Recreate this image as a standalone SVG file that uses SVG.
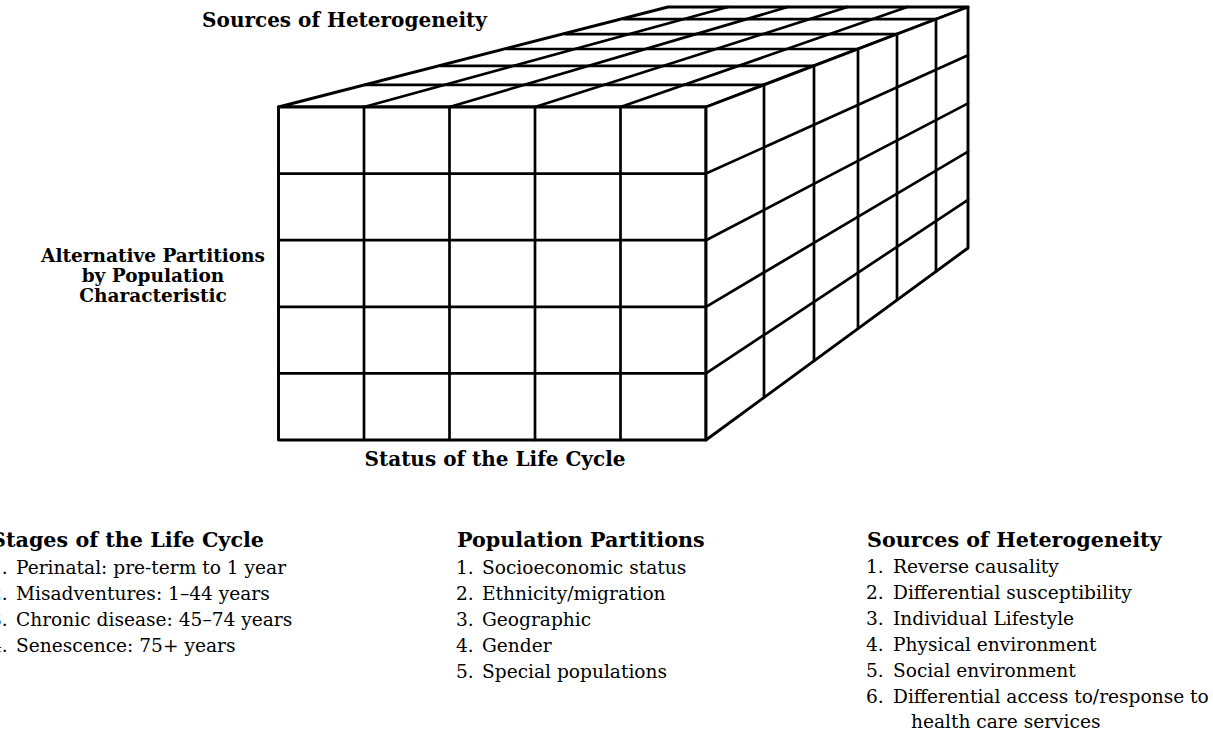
<svg xmlns="http://www.w3.org/2000/svg" width="1213" height="739" viewBox="0 0 1213 739">
<style>
.ln{fill:none;stroke:#000;stroke-width:2.7;stroke-linecap:round;stroke-linejoin:round}
.face{fill:#fff;stroke:#000;stroke-width:2.9;stroke-linejoin:round}
.hd{font-family:"DejaVu Serif","Liberation Serif",serif;font-weight:bold;font-size:20px;fill:#000}
.lh{font-family:"DejaVu Serif","Liberation Serif",serif;font-weight:bold;font-size:20.7px;fill:#000}
.lb{font-family:"DejaVu Serif","Liberation Serif",serif;font-weight:bold;font-size:18.5px;fill:#000}
.it{font-family:"DejaVu Serif","Liberation Serif",serif;font-size:18.6px;fill:#000}
</style>
<rect width="1213" height="739" fill="#fff"/>

<g id="cube">
  <g id="top-face">
    <polygon class="face" points="278.5,107 706,107 968,7 668,7"/>
    <path class="ln" d="M364,107 L727.8,7 M449.5,107 L787.6,7 M535,107 L847.4,7 M620.5,107 L907.2,7"/>
    <path class="ln" d="M365.4,84.9 L764,84.9 M440.6,65.8 L814,65.8 M506.7,49 L858,49 M565.3,34.1 L897,34.1 M623.9,19.2 L936,19.2"/>
  </g>
  <g id="front-face">
    <rect class="face" x="278.5" y="107" width="427.5" height="333"/>
    <path class="ln" d="M364,107 V440 M449.5,107 V440 M535,107 V440 M620.5,107 V440"/>
    <path class="ln" d="M278.5,173.6 H706 M278.5,240.2 H706 M278.5,306.8 H706 M278.5,373.4 H706"/>
  </g>
  <g id="right-face">
    <polygon class="face" points="706,107 968,7 968,248 706,440"/>
    <path class="ln" d="M764,84.9 V397.5 M814,65.8 V360.9 M858,49 V328.6 M897,34.1 V300 M936,19.2 V271.5"/>
    <path class="ln" d="M706,173.6 L968,55.2 M706,240.2 L968,103.4 M706,306.8 L968,151.6 M706,373.4 L968,199.8"/>
  </g>
</g>

<g id="axis-labels">
  <text id="label-top" class="hd" x="344.5" y="27" text-anchor="middle">Sources of Heterogeneity</text>
  <g id="label-left" class="lb" text-anchor="middle">
    <text x="153" y="262">Alternative Partitions</text>
    <text x="153" y="282">by Population</text>
    <text x="153" y="302">Characteristic</text>
  </g>
  <text id="label-bottom" class="hd" x="495" y="466" text-anchor="middle">Status of the Life Cycle</text>
</g>

<g id="list-stages">
  <text class="lh" x="-9" y="547">Stages of the Life Cycle</text>
  <g class="it">
    <text x="-10" y="574">1.</text><text x="16" y="574">Perinatal: pre-term to 1 year</text>
    <text x="-10" y="600">2.</text><text x="16" y="600">Misadventures: 1–44 years</text>
    <text x="-10" y="626">3.</text><text x="16" y="626">Chronic disease: 45–74 years</text>
    <text x="-10" y="652">4.</text><text x="16" y="652">Senescence: 75+ years</text>
  </g>
</g>

<g id="list-partitions">
  <text class="lh" x="457" y="547">Population Partitions</text>
  <g class="it">
    <text x="456" y="574">1.</text><text x="482" y="574">Socioeconomic status</text>
    <text x="456" y="600">2.</text><text x="482" y="600">Ethnicity/migration</text>
    <text x="456" y="626">3.</text><text x="482" y="626">Geographic</text>
    <text x="456" y="652">4.</text><text x="482" y="652">Gender</text>
    <text x="456" y="678">5.</text><text x="482" y="678">Special populations</text>
  </g>
</g>

<g id="list-sources">
  <text class="lh" x="867" y="547">Sources of Heterogeneity</text>
  <g class="it">
    <text x="866" y="573">1.</text><text x="893" y="573">Reverse causality</text>
    <text x="866" y="599">2.</text><text x="893" y="599">Differential susceptibility</text>
    <text x="866" y="625">3.</text><text x="893" y="625">Individual Lifestyle</text>
    <text x="866" y="651">4.</text><text x="893" y="651">Physical environment</text>
    <text x="866" y="677">5.</text><text x="893" y="677">Social environment</text>
    <text x="866" y="703">6.</text><text x="893" y="703">Differential access to/response to</text>
    <text x="911" y="728">health care services</text>
  </g>
</g>
</svg>
